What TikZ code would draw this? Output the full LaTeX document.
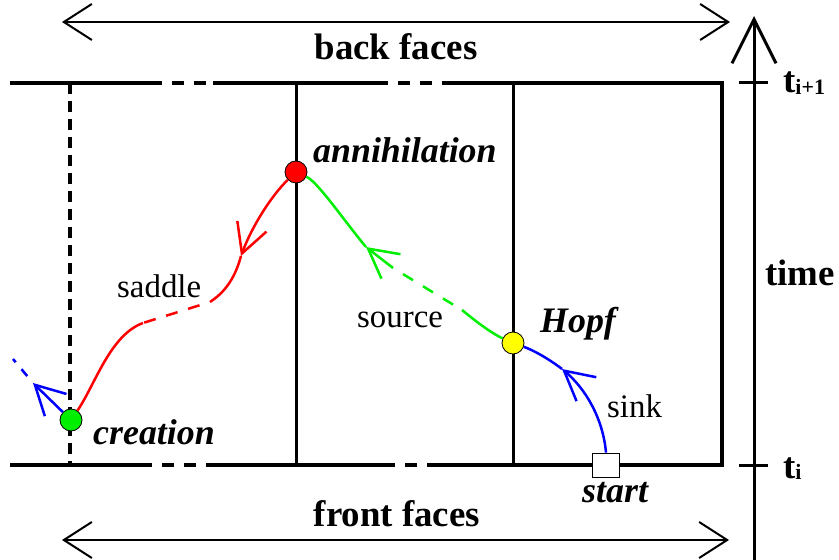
\documentclass[tikz,border=0pt]{standalone}
\usepackage{fontspec}
\setmainfont{Liberation Serif}
\usepackage{tikz}
\usetikzlibrary{arrows.meta}
\definecolor{saddlered}{HTML}{FF0000}
\definecolor{sourcegreen}{HTML}{00EE00}
\definecolor{sinkblue}{HTML}{0000FF}
\definecolor{hopfyellow}{HTML}{FFFF00}
\tikzset{
  edge/.style={line width=3.5bp, draw=black},
  backedge/.style={line width=3.5bp, draw=black, dash pattern=on 12bp off 10bp, dash phase=12bp},
  hidden/.style={line width=3.5bp, draw=black, dash pattern=on 11bp off 7bp},
  span/.style={{Straight Barb[length=28bp,width=36bp]}-{Straight Barb[length=28bp,width=36bp]}, line width=2bp},
  timeaxis/.style={-{Straight Barb[length=44bp,width=44bp]}, line width=3bp},
  orbit/.style={line width=2.5bp},
  flow/.style={-{Straight Barb[length=29bp,width=31bp]}, line width=2.5bp},
  flowback/.style={{Straight Barb[length=29bp,width=31bp]}-, line width=2.5bp},
  bif/.style={circle, draw=black, line width=0.8bp, minimum size=22bp, inner sep=0pt},
  startbox/.style={draw=black, line width=0.8bp, fill=white, minimum width=27bp, minimum height=24bp, inner sep=0pt},
  plain/.style={font=\fontsize{33}{38}\selectfont, inner sep=0pt, anchor=base west},
  event/.style={font=\fontsize{36}{40}\selectfont\bfseries\itshape, inner sep=0pt, anchor=base west},
  heading/.style={font=\fontsize{37}{42}\selectfont\bfseries, inner sep=0pt}
}

\begin{document}
\begin{tikzpicture}[x=1bp, y=-1bp]
  \useasboundingbox (0,0) rectangle (839,560);

  % faces of the cell
  \draw[edge] (10,83) -- (162,83);
  \draw[backedge] (162,83) -- (213,83);
  \draw[edge] (213,83) -- (388,83);
  \draw[backedge] (388,83) -- (447,83);
  \draw[edge] (447,83) -- (722,83) -- (722,465) -- (437,465);
  \draw[edge] (10,465) -- (152,465);
  \draw[backedge] (152,465) -- (210,465);
  \draw[edge] (210,465) -- (395,465);
  \draw[backedge] (395,465) -- (437,465);
  \draw[hidden] (70,83) -- (70,465);
  \draw[edge, line width=3bp] (296,83) -- (296,465);
  \draw[edge, line width=3bp] (513,83) -- (513,465);

  % time axis
  \coordinate (tbot) at (754,560);
  \coordinate (ttop) at (754,16);
  \draw[timeaxis] (tbot) -- (ttop);
  \draw[line width=3bp] (739,83) -- (768,83);
  \draw[line width=3bp] (739,465) -- (768,465);
  \node[heading, anchor=base west] (tnext) at (783,93) {t\raisebox{-2bp}{\fontsize{22}{24}\selectfont i+1}};
  \node[heading, anchor=base west] (tcur) at (783,478) {t\raisebox{-1bp}{\fontsize{22}{24}\selectfont i}};
  \node[heading, anchor=base west] (time) at (765,286) {time};

  % faces
  \coordinate (backL) at (62,22);
  \coordinate (backR) at (730,22);
  \draw[span] (backL) -- (backR);
  \node[heading, anchor=base] (back) at (396,60) {back faces};
  \coordinate (frontL) at (62,540);
  \coordinate (frontR) at (729,540);
  \draw[span] (frontL) -- (frontR);
  \node[heading, anchor=base] (front) at (397,526) {front faces};

  % bifurcation points
  \node[bif, fill=saddlered] (annih) at (296,172) {};
  \node[bif, fill=sourcegreen] (creat) at (71,420) {};
  \node[bif, fill=hopfyellow] (hopf) at (513,343) {};
  \node[startbox] (start) at (606,465) {};
  \node[event] (annihl) at (313,163) {annihilation};
  \node[event] (creatl) at (93,444) {creation};
  \node[event] (hopfl) at (540,333) {Hopf};
  \node[event] (startl) at (582,502) {start};

  % saddle branch
  \coordinate (redtip) at (241,256);
  \coordinate (sadA) at (210,302);
  \coordinate (sadB) at (143,323);
  \draw[flow, saddlered] (annih) .. controls (272,195) and (252,226) .. (redtip);
  \draw[orbit, saddlered] (redtip) .. controls (234,282) and (222,294) .. (sadA);
  \draw[orbit, saddlered, dash pattern=on 12bp off 11bp, dash phase=12bp] (sadA) -- (sadB);
  \draw[orbit, saddlered] (sadB) .. controls (110,335) and (95,385) .. (creat);
  \node[plain] (saddle) at (117,298) {saddle};

  % source branch
  \coordinate (greentip) at (366,247);
  \coordinate (srcA) at (393,268);
  \coordinate (srcB) at (462,310);
  \draw[orbit, sourcegreen] (annih) .. controls (318,182) and (345,222) .. (greentip);
  \draw[flowback, sourcegreen] (greentip) -- (srcA);
  \draw[orbit, sourcegreen, dash pattern=on 11.7bp off 11.7bp, dash phase=11.7bp] (srcA) -- (srcB);
  \draw[orbit, sourcegreen] (srcB) .. controls (480,325) and (495,335) .. (hopf);
  \node[plain] (source) at (357,328) {source};

  % sink branch
  \coordinate (sinktip) at (562,369);
  \draw[flow, sinkblue] (start.north) .. controls (603,418) and (585,388) .. (sinktip);
  \draw[orbit, sinkblue] (sinktip) .. controls (545,356) and (530,349) .. (hopf);
  \node[plain] (sink) at (607,417) {sink};
  \coordinate (escape) at (33,383);
  \coordinate (escend) at (13,359);
  \draw[flow, sinkblue] (creat) -- (escape);
  \draw[orbit, sinkblue, dash pattern=on 9bp off 9bp, dash phase=9bp] (escape) -- (escend);
\end{tikzpicture}
\end{document}
